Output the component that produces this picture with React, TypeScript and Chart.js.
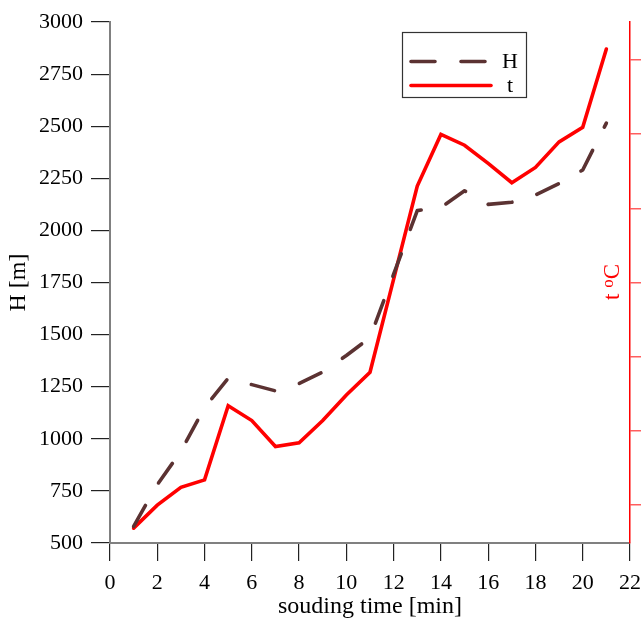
import React, { useEffect, useRef } from "react";
import { Chart, registerables } from "chart.js";

Chart.register(...registerables);

// sounding time [min]
const times = [1, 2, 3, 4, 5, 6, 7, 8, 9, 10, 11, 12, 13, 14, 15, 16, 17, 18, 19, 20, 21];
// H [m]
const heightH = [580, 780, 940, 1150, 1290, 1260, 1230, 1265, 1320, 1400, 1485, 1790, 2095, 2110, 2190, 2125, 2135, 2170, 2225, 2290, 2515];
// t [oC] (right axis, unlabeled)
const tempT = [-0.62, 0.0, 0.48, 0.68, 2.68, 2.28, 1.58, 1.68, 2.28, 2.97, 3.58, 6.09, 8.6, 9.99, 9.7, 9.21, 8.69, 9.1, 9.79, 10.18, 12.29];

const hTicks = [500, 750, 1000, 1250, 1500, 1750, 2000, 2250, 2500, 2750, 3000];
const xTicks = [0, 2, 4, 6, 8, 10, 12, 14, 16, 18, 20, 22];
const tTicks = [0, 2, 4, 6, 8, 10, 12];

const SERIF = '"Liberation Serif", "Times New Roman", serif';
const H_COLOR = "#5B3232";
const T_COLOR = "#FF0000";

const legendPlugin = {
  id: "boxLegend",
  afterDraw(chart: any) {
    const ctx = chart.ctx as CanvasRenderingContext2D;
    ctx.save();
    ctx.fillStyle = "#ffffff";
    ctx.fillRect(402, 32, 125, 66);
    ctx.strokeStyle = "#333333";
    ctx.lineWidth = 1.2;
    ctx.strokeRect(402.5, 32.5, 124, 65);
    const rows = [61.5, 85.5];
    chart.data.datasets.forEach((ds: any, i: number) => {
      const y = rows[i];
      ctx.beginPath();
      ctx.setLineDash(ds.borderDash || []);
      ctx.lineCap = "round";
      ctx.strokeStyle = ds.borderColor;
      ctx.lineWidth = ds.borderWidth;
      ctx.moveTo(411, y);
      ctx.lineTo(ds.borderDash ? 487 : 491, y);
      ctx.stroke();
      ctx.setLineDash([]);
      ctx.fillStyle = "#000000";
      ctx.font = `22px ${SERIF}`;
      ctx.textAlign = "center";
      ctx.textBaseline = "middle";
      ctx.fillText(ds.label, 510, y + 1);
    });
    ctx.restore();
  },
};

const rightTitlePlugin = {
  id: "rightTitle",
  afterDraw(chart: any) {
    const ctx = chart.ctx as CanvasRenderingContext2D;
    ctx.save();
    ctx.translate(612, 282);
    ctx.rotate(-Math.PI / 2);
    ctx.fillStyle = T_COLOR;
    ctx.textBaseline = "alphabetic";
    ctx.textAlign = "left";
    const big = `23px ${SERIF}`;
    const small = `17px ${SERIF}`;
    ctx.font = big;
    const wt = ctx.measureText("t ").width;
    const wC = ctx.measureText("C").width;
    ctx.font = small;
    const wo = ctx.measureText("o").width;
    const total = wt + wo + wC;
    let u = -total / 2;
    const base = 6.5;
    ctx.font = big;
    ctx.fillText("t ", u, base);
    u += wt;
    ctx.font = small;
    ctx.fillText("o", u, base - 6);
    u += wo;
    ctx.font = big;
    ctx.fillText("C", u, base);
    ctx.restore();
  },
};

export default function App() {
  const ref = useRef<HTMLCanvasElement | null>(null);

  useEffect(() => {
    if (!ref.current) return;
    const chart = new Chart(ref.current, {
      type: "line",
      data: {
        datasets: [
          {
            label: "H",
            data: times.map((x, i) => ({ x, y: heightH[i] })),
            yAxisID: "y",
            borderColor: H_COLOR,
            backgroundColor: H_COLOR,
            borderWidth: 3.6,
            borderDash: [24, 26],
            borderCapStyle: "round",
            borderJoinStyle: "round",
            pointRadius: 0,
            tension: 0,
            fill: false,
          },
          {
            label: "t",
            data: times.map((x, i) => ({ x, y: tempT[i] })),
            yAxisID: "y1",
            borderColor: T_COLOR,
            backgroundColor: T_COLOR,
            borderWidth: 3.6,
            borderCapStyle: "round",
            borderJoinStyle: "miter",
            pointRadius: 0,
            tension: 0,
            fill: false,
          },
        ],
      },
      options: {
        responsive: false,
        animation: false,
        events: [],
        layout: { padding: { top: 22, left: 0, right: 0, bottom: 0 } },
        plugins: {
          legend: { display: false },
          tooltip: { enabled: false },
          title: { display: false },
        },
        scales: {
          x: {
            type: "linear",
            position: "bottom",
            min: 0,
            max: 22,
            afterBuildTicks: (s: any) => {
              s.ticks = xTicks.map((v) => ({ value: v }));
            },
            afterFit: (s: any) => {
              s.height = 78;
              s.paddingLeft = 0;
              s.paddingRight = 0;
            },
            ticks: {
              color: "#000000",
              font: { family: SERIF, size: 22 },
              padding: 9,
              maxRotation: 0,
              autoSkip: false,
              callback: (v: any) => String(v),
            },
            grid: {
              drawOnChartArea: false,
              drawTicks: true,
              tickLength: 18,
              color: "#222222",
              lineWidth: 1.2,
            },
            border: { display: true, color: "#808080", width: 2 },
            title: {
              display: true,
              text: "souding time [min]",
              color: "#000000",
              font: { family: SERIF, size: 24 },
              padding: { top: 0, bottom: 0 },
            },
          },
          y: {
            type: "linear",
            position: "left",
            min: 500,
            max: 3000,
            afterBuildTicks: (s: any) => {
              s.ticks = hTicks.map((v) => ({ value: v }));
            },
            afterFit: (s: any) => {
              s.width = 110;
              s.paddingTop = 0;
              s.paddingBottom = 0;
            },
            ticks: {
              color: "#000000",
              font: { family: SERIF, size: 22 },
              padding: 8,
              autoSkip: false,
              callback: (v: any) => String(v),
            },
            grid: {
              drawOnChartArea: false,
              drawTicks: true,
              tickLength: 19,
              color: "#222222",
              lineWidth: 1.2,
            },
            border: { display: true, color: "#808080", width: 2 },
            title: {
              display: true,
              text: "H [m]",
              color: "#000000",
              font: { family: SERIF, size: 24 },
              padding: { top: 4, bottom: 0 },
            },
          },
          y1: {
            type: "linear",
            position: "right",
            min: -1.02,
            max: 13.02,
            afterBuildTicks: (s: any) => {
              s.ticks = tTicks.map((v) => ({ value: v }));
            },
            afterFit: (s: any) => {
              s.width = 12;
              s.paddingTop = 0;
              s.paddingBottom = 0;
            },
            ticks: { display: false },
            grid: {
              drawOnChartArea: false,
              drawTicks: true,
              tickLength: 11,
              color: "rgba(255,40,40,0.75)",
              lineWidth: 1.5,
            },
            border: { display: true, color: T_COLOR, width: 1.5 },
            title: { display: false },
          },
        },
      },
      plugins: [legendPlugin, rightTitlePlugin],
    } as any);
    return () => chart.destroy();
  }, []);

  return (
    <div style={{ position: "fixed", left: 0, top: 0, width: 642, height: 621, background: "#ffffff" }}>
      <canvas ref={ref} width={642} height={621} style={{ display: "block" }} />
    </div>
  );
}
